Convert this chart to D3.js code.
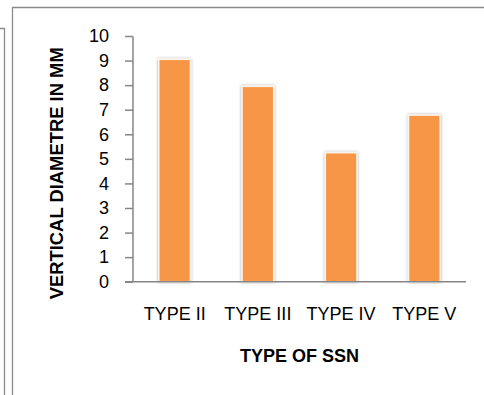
<!DOCTYPE html>
<html><head><meta charset="utf-8">
<script src="https://cdn.jsdelivr.net/npm/d3@7/dist/d3.min.js"></script>
<style>body{margin:0;background:#fff}svg{display:block}text{font-family:"Liberation Sans",Arial,sans-serif;fill:#000}</style>
</head><body>
<script>
const categories = ["TYPE II", "TYPE III", "TYPE IV", "TYPE V"];
const values = [9.05, 7.95, 5.25, 6.78];
const yTicks = [0,1,2,3,4,5,6,7,8,9,10];
const xTitle = "TYPE OF SSN";
const yTitle = "VERTICAL DIAMETRE IN MM";

const W = 484, H = 395;
const svg = d3.select("body").append("svg").attr("width", W).attr("height", H);

// frames
svg.append("path").attr("d","M0,28.5H4.5V395").attr("fill","none").attr("stroke","#8a8a8a").attr("stroke-width",1.3);
svg.append("path").attr("d","M12.5,395V7.5H484").attr("fill","none").attr("stroke","#8a8a8a").attr("stroke-width",1.3);

const defs = svg.append("defs");
const f = defs.append("filter").attr("id","sh").attr("x","-30%").attr("y","-10%").attr("width","160%").attr("height","120%");
f.append("feDropShadow").attr("dx",0).attr("dy",0).attr("stdDeviation",1.6).attr("flood-color","#000").attr("flood-opacity",0.35);

const x = d3.scaleBand().domain(categories).range([133, 466]).paddingInner(0.62).paddingOuter(0.31);
const y = d3.scaleLinear().domain([0, 10]).range([281.7, 36]);

svg.append("g").selectAll("rect").data(categories).join("rect")
  .attr("x", d => x(d)).attr("width", x.bandwidth())
  .attr("y", (d,i) => y(values[i])).attr("height", (d,i) => y(0) - y(values[i]))
  .attr("fill", "#F79646").attr("stroke","#fdf3ea").attr("stroke-width",1.5)
  .attr("filter","url(#sh)");

const ya = svg.append("g").attr("transform","translate(133,0)")
  .call(d3.axisLeft(y).tickValues(yTicks).tickSize(8).tickPadding(16).tickFormat(d3.format("d")));
ya.select(".domain").attr("stroke","#868686").attr("stroke-width",1.5).attr("d","M0,36.5V281.7");
ya.selectAll(".tick line").attr("stroke","#868686").attr("stroke-width",1.5);
ya.selectAll(".tick text").attr("font-size","18px").attr("fill","#000").style("font-family","Liberation Sans, Arial, sans-serif");

const xa = svg.append("g").attr("transform","translate(0,281.7)")
  .call(d3.axisBottom(x).tickSize(0).tickPadding(26));
xa.select(".domain").attr("stroke","#868686").attr("stroke-width",1.5).attr("d","M125,0H466");
xa.selectAll(".tick text").attr("font-size","18px").attr("fill","#000").style("font-family","Liberation Sans, Arial, sans-serif");

svg.append("text").attr("x", 299.5).attr("y", 362).attr("text-anchor","middle")
  .attr("font-size","18px").attr("font-weight","bold").text(xTitle);
svg.append("text").attr("transform","translate(63,173.3) rotate(-90)").attr("text-anchor","middle")
  .attr("font-size","18.4px").attr("font-weight","bold").text(yTitle);
</script>
</body></html>
